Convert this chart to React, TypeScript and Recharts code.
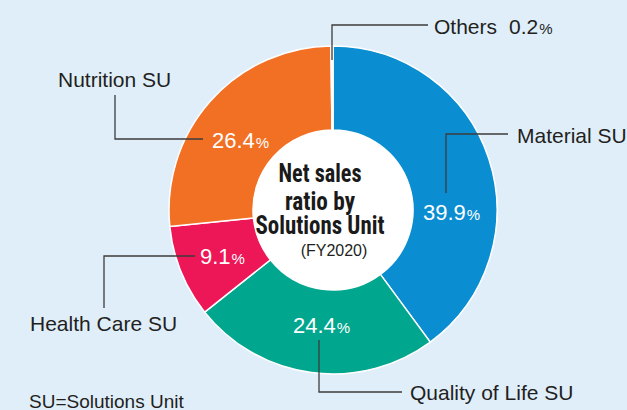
import React from 'react';
import { PieChart, Pie, Cell, Customized } from 'recharts';

const units = ['Material SU', 'Quality of Life SU', 'Health Care SU', 'Nutrition SU', 'Others'];
const shares = [39.9, 24.4, 9.1, 26.4, 0.2];
const colors = ['#0a8ed1', '#00a68d', '#ed1656', '#f27024', '#e4e4e4'];
const centerLines = ['Net sales', 'ratio by', 'Solutions Unit'];
const centerSub = '(FY2020)';
const footnote = 'SU=Solutions Unit';

const data = units.map((name, i) => ({ name, value: shares[i] }));
const hole = [{ name: 'center', value: 1 }];

const LABEL_FONT = "'Liberation Sans', Arial, Helvetica, sans-serif";
const BOLD_FONT = "'Liberation Sans Narrow', 'Roboto Condensed', 'DejaVu Sans Condensed', 'Liberation Sans', sans-serif";
const TEXT = '#231f20';

// annotation layout, offsets from the pie centre
const layout = [
  { inside: true, pct: [90, 10], line: [[113, -17], [113, -76], [175, -76]], name: [184, -67.5] },
  { inside: true, pct: [-40, 123], line: [[-14, 130], [-14, 182], [69, 182]], name: [77, 190] },
  { inside: true, pct: [-133, 54], line: [[-138, 46], [-229, 46], [-229, 98]], name: [-303, 121] },
  { inside: true, pct: [-121, -62], line: [[-130, -71], [-218, -71], [-218, -115]], name: [-275, -123.5] },
  { inside: false, pct: [0, 0], line: [[-1, -150], [-1, -185], [95, -185]], name: [101, -176.5] },
];
const centerLayout = { dx: -13, dys: [-28, 0, 24], subDx: 1, subDy: 46, widths: [83, 70, 129] };

const renderLabel = (props: any) => {
  const { cx, cy, index } = props;
  const L = layout[index];
  const pts = L.line.map(([dx, dy]) => `${cx + dx},${cy + dy}`).join(' ');
  const v = shares[index].toFixed(1);
  return (
    <g key={`lbl-${index}`}>
      <polyline points={pts} fill="none" stroke="#3c3c3c" strokeWidth={1.3} />
      {L.inside ? (
        <>
          <text x={cx + L.pct[0]} y={cy + L.pct[1]} fill="#ffffff" fontSize={22} fontFamily={LABEL_FONT}>
            {v}
            <tspan fontSize={15} dx={1}>%</tspan>
          </text>
          <text x={cx + L.name[0]} y={cy + L.name[1]} fill={TEXT} fontSize={21} fontFamily={LABEL_FONT}>
            {units[index]}
          </text>
        </>
      ) : (
        <text x={cx + L.name[0]} y={cy + L.name[1]} fill={TEXT} fontSize={21} fontFamily={LABEL_FONT}>
          {units[index]}
          <tspan dx={12}>{v}</tspan>
          <tspan fontSize={15} dx={1}>%</tspan>
        </text>
      )}
    </g>
  );
};

const renderCenter = (props: any) => {
  const { cx, cy } = props;
  return (
    <g key="center-text">
      {centerLines.map((t, i) => (
        <text
          key={t}
          x={cx + centerLayout.dx}
          y={cy + centerLayout.dys[i]}
          textAnchor="middle"
          fill="#1a1a1a"
          fontSize={25}
          fontWeight="bold"
          fontFamily={BOLD_FONT}
          textLength={centerLayout.widths[i]}
          lengthAdjust="spacingAndGlyphs"
        >
          {t}
        </text>
      ))}
      <text
        x={cx + centerLayout.subDx}
        y={cy + centerLayout.subDy}
        textAnchor="middle"
        fill={TEXT}
        fontSize={16}
        fontFamily={LABEL_FONT}
      >
        {centerSub}
      </text>
    </g>
  );
};

const Footnote = () => (
  <text x={29} y={408} fill={TEXT} fontSize={19} fontFamily={LABEL_FONT}>
    {footnote}
  </text>
);

export default function App() {
  return (
    <div style={{ width: 627, height: 410, background: '#e0eefa', overflow: 'hidden' }}>
      <style>{`body{margin:0}`}</style>
      <PieChart width={627} height={410} margin={{ top: 0, right: 0, bottom: 0, left: 0 }}>
        <Pie
          data={data}
          dataKey="value"
          cx={333}
          cy={210}
          innerRadius={80}
          outerRadius={164}
          startAngle={90}
          endAngle={-270}
          stroke="#ffffff"
          strokeWidth={1.5}
          label={renderLabel}
          labelLine={false}
          isAnimationActive={false}
        >
          {data.map((d, i) => (
            <Cell key={d.name} fill={colors[i]} />
          ))}
        </Pie>
        <Pie
          data={hole}
          dataKey="value"
          cx={333}
          cy={210}
          innerRadius={0}
          outerRadius={80}
          startAngle={90}
          endAngle={-270}
          fill="#ffffff"
          stroke="none"
          label={renderCenter}
          labelLine={false}
          isAnimationActive={false}
        />
        <Customized component={Footnote} />
      </PieChart>
    </div>
  );
}
